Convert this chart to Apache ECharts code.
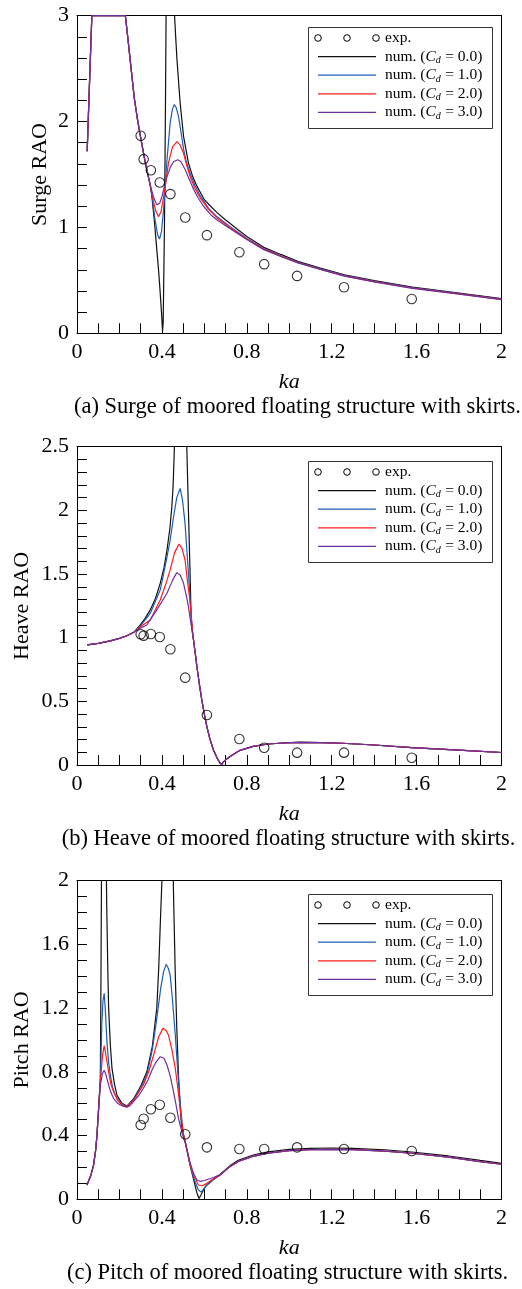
<!DOCTYPE html>
<html>
<head>
<meta charset="utf-8">
<script src="https://cdn.jsdelivr.net/npm/echarts@6/dist/echarts.min.js"></script>
<style>html,body{margin:0;padding:0;background:#fff}#c{width:522px;height:1289px}</style>
</head>
<body>
<div id="c"></div>
<script>
// ---------- experimental points ----------
const kaExp    = [0.300, 0.314, 0.348, 0.390, 0.440, 0.510, 0.612, 0.765, 0.882, 1.037, 1.258, 1.577];
const surgeExp = [1.866, 1.645, 1.540, 1.425, 1.315, 1.094, 0.927, 0.766, 0.653, 0.542, 0.435, 0.324];
const heaveExp = [1.027, 1.016, 1.029, 1.005, 0.909, 0.686, 0.393, 0.204, 0.136, 0.097, 0.097, 0.057];
const pitchExp = [0.466, 0.506, 0.565, 0.594, 0.512, 0.408, 0.326, 0.316, 0.316, 0.326, 0.316, 0.303];

// ---------- surge (a) ----------
const surgeLow = [[0.048,1.72],[0.059,2.37],[0.07,3.0],[0.1,3.0],[0.15,3.0],[0.2,3.0],[0.228,3.0],[0.24,2.78],[0.255,2.5],[0.27,2.22],[0.285,2.02],[0.298,1.87],[0.321,1.62],[0.345,1.40]];
const surgeCd0 = [[0.353,1.29],[0.365,1.05],[0.376,0.79],[0.385,0.58],[0.392,0.38],[0.398,0.2],[0.403,0.02],[0.406,0.1],[0.412,1.0],[0.417,2.2],[0.421,3.4],[0.455,3.4],[0.458,3.06],[0.465,2.8],[0.471,2.585],[0.486,2.175],[0.502,1.86],[0.525,1.61],[0.545,1.48],[0.565,1.39],[0.6,1.262],[0.627,1.205],[0.66,1.14],[0.7,1.07],[0.72,1.04],[0.76,0.975],[0.8,0.915],[0.88,0.812],[0.96,0.745],[1.04,0.68],[1.15,0.614],[1.26,0.553],[1.4,0.497],[1.58,0.436],[1.8,0.38],[2.0,0.327]];
const surgeCd1 = [[0.353,1.30],[0.368,1.07],[0.38,0.93],[0.389,0.89],[0.398,0.96],[0.408,1.17],[0.416,1.4],[0.424,1.64],[0.439,1.99],[0.45,2.12],[0.458,2.16],[0.468,2.13],[0.478,2.05],[0.49,1.9],[0.502,1.74],[0.515,1.62],[0.533,1.51],[0.555,1.4],[0.58,1.3],[0.62,1.18],[0.66,1.1],[0.72,1.01],[0.8,0.895],[0.88,0.8],[0.96,0.733],[1.04,0.673],[1.15,0.607],[1.26,0.547],[1.4,0.491],[1.58,0.431],[1.8,0.375],[2.0,0.323]];
const surgeCd2 = [[0.361,1.24],[0.372,1.15],[0.384,1.10],[0.396,1.15],[0.408,1.29],[0.42,1.45],[0.431,1.61],[0.45,1.76],[0.471,1.81],[0.485,1.78],[0.502,1.70],[0.515,1.60],[0.533,1.48],[0.555,1.37],[0.58,1.28],[0.62,1.17],[0.66,1.09],[0.72,1.0],[0.8,0.89],[0.88,0.795],[0.96,0.729],[1.04,0.669],[1.15,0.603],[1.26,0.543],[1.4,0.488],[1.58,0.428],[1.8,0.372],[2.0,0.32]];
const surgeCd3 = [[0.36,1.29],[0.376,1.213],[0.39,1.23],[0.4,1.29],[0.412,1.39],[0.424,1.48],[0.44,1.57],[0.455,1.62],[0.475,1.64],[0.49,1.62],[0.51,1.545],[0.53,1.45],[0.549,1.36],[0.57,1.28],[0.596,1.2],[0.63,1.12],[0.66,1.07],[0.72,0.99],[0.8,0.885],[0.88,0.79],[0.96,0.725],[1.04,0.665],[1.15,0.6],[1.26,0.54],[1.4,0.485],[1.58,0.425],[1.8,0.37],[2.0,0.318]];

// ---------- heave (b) ----------
const heaveLow = [[0.048,0.943],[0.1,0.955],[0.157,0.975],[0.2,0.995],[0.235,1.015],[0.27,1.045]];
const heaveCd0 = [[0.298,1.10],[0.32,1.15],[0.345,1.218],[0.37,1.31],[0.392,1.427],[0.41,1.55],[0.424,1.689],[0.437,1.85],[0.447,2.03],[0.453,2.2],[0.458,2.45],[0.462,2.7],[0.514,2.7],[0.518,2.45],[0.525,2.0],[0.532,1.55],[0.538,1.15],[0.545,1.02]];
const heaveCd1 = [[0.298,1.09],[0.345,1.19],[0.392,1.374],[0.42,1.6],[0.439,1.767],[0.455,1.95],[0.47,2.1],[0.486,2.173],[0.497,2.08],[0.509,1.90],[0.517,1.7],[0.525,1.506],[0.532,1.33],[0.538,1.165],[0.545,1.03]];
const heaveCd2 = [[0.298,1.085],[0.345,1.139],[0.392,1.296],[0.42,1.43],[0.439,1.532],[0.46,1.67],[0.481,1.736],[0.495,1.70],[0.509,1.61],[0.52,1.45],[0.53,1.32],[0.538,1.18],[0.545,1.04]];
const heaveCd3 = [[0.298,1.075],[0.329,1.10],[0.376,1.218],[0.424,1.349],[0.45,1.45],[0.47,1.511],[0.487,1.49],[0.502,1.427],[0.515,1.33],[0.525,1.244],[0.535,1.13],[0.545,1.03]];
const heaveHigh = [[0.549,0.982],[0.557,0.88],[0.565,0.772],[0.577,0.63],[0.588,0.511],[0.6,0.40],[0.612,0.30],[0.627,0.2],[0.643,0.118],[0.66,0.055],[0.672,0.02],[0.682,0.004],[0.69,0.025],[0.705,0.048],[0.721,0.066],[0.768,0.115],[0.83,0.146],[0.9,0.165],[0.97,0.173],[1.05,0.177],[1.15,0.176],[1.25,0.171],[1.4,0.157],[1.577,0.137],[1.8,0.117],[2.0,0.098]];

// ---------- pitch (c) ----------
const pitchLow = [[0.047,0.09],[0.065,0.15],[0.078,0.215],[0.088,0.31],[0.094,0.40],[0.102,0.571]];
const pitchCd0 = [[0.11,0.76],[0.113,1.41],[0.116,2.2],[0.137,2.2],[0.14,1.85],[0.145,1.45],[0.149,1.2],[0.157,0.97],[0.165,0.82],[0.177,0.72],[0.188,0.655],[0.21,0.605],[0.235,0.585],[0.266,0.63],[0.3,0.71],[0.329,0.80],[0.355,0.96],[0.376,1.2],[0.385,1.45],[0.393,1.75],[0.4,2.0],[0.403,2.2],[0.451,2.2],[0.455,1.9],[0.463,1.41],[0.47,1.08],[0.478,0.78],[0.485,0.6],[0.492,0.466],[0.51,0.36],[0.533,0.215],[0.55,0.12],[0.565,0.04],[0.575,0.005],[0.585,0.03],[0.6,0.07],[0.612,0.09],[0.645,0.127],[0.675,0.157],[0.72,0.21],[0.76,0.245],[0.83,0.278],[0.9,0.298],[1.0,0.313],[1.1,0.32],[1.2,0.322],[1.3,0.32],[1.45,0.311],[1.577,0.297],[1.75,0.272],[1.9,0.244],[2.0,0.226]];
const pitchCd1 = [[0.11,0.745],[0.117,1.1],[0.122,1.24],[0.128,1.293],[0.133,1.2],[0.141,0.99],[0.149,0.86],[0.157,0.78],[0.168,0.7],[0.18,0.655],[0.2,0.61],[0.235,0.58],[0.266,0.625],[0.3,0.70],[0.329,0.78],[0.355,0.94],[0.376,1.136],[0.395,1.33],[0.408,1.429],[0.42,1.475],[0.43,1.45],[0.439,1.408],[0.45,1.25],[0.463,1.031],[0.475,0.80],[0.486,0.613],[0.495,0.48],[0.502,0.40],[0.51,0.36],[0.533,0.215],[0.55,0.13],[0.572,0.058],[0.585,0.045],[0.6,0.07],[0.612,0.09],[0.645,0.125],[0.675,0.153],[0.72,0.205]];
const pitchCd2 = [[0.11,0.74],[0.12,0.90],[0.128,0.964],[0.137,0.9],[0.149,0.80],[0.16,0.72],[0.172,0.676],[0.19,0.625],[0.21,0.595],[0.235,0.58],[0.266,0.62],[0.313,0.718],[0.34,0.81],[0.361,0.906],[0.385,1.02],[0.405,1.073],[0.42,1.06],[0.431,1.031],[0.447,0.94],[0.463,0.822],[0.475,0.70],[0.486,0.571],[0.502,0.40],[0.51,0.36],[0.533,0.215],[0.55,0.15],[0.572,0.09],[0.59,0.085],[0.612,0.1],[0.645,0.13],[0.675,0.153],[0.72,0.205]];
const pitchCd3 = [[0.11,0.72],[0.12,0.79],[0.128,0.81],[0.137,0.78],[0.149,0.717],[0.16,0.67],[0.172,0.634],[0.19,0.605],[0.204,0.592],[0.22,0.583],[0.235,0.578],[0.25,0.588],[0.266,0.613],[0.29,0.65],[0.313,0.697],[0.335,0.75],[0.353,0.81],[0.372,0.86],[0.392,0.895],[0.41,0.885],[0.424,0.843],[0.44,0.77],[0.455,0.675],[0.467,0.59],[0.478,0.508],[0.49,0.445],[0.502,0.383],[0.51,0.355],[0.533,0.23],[0.55,0.16],[0.565,0.121],[0.58,0.113],[0.6,0.118],[0.64,0.135],[0.675,0.155],[0.72,0.205]];
const pitchTail = [[0.76,0.238],[0.83,0.27],[0.9,0.29],[1.0,0.305],[1.1,0.312],[1.2,0.314],[1.3,0.312],[1.45,0.303],[1.577,0.289],[1.75,0.265],[1.9,0.237],[2.0,0.22]];

// ---------- labels ----------
const seriesNames = ['exp.', 'num. (Cd = 0.0)', 'num. (Cd = 1.0)', 'num. (Cd = 2.0)', 'num. (Cd = 3.0)'];
const cdValues = ['0.0', '1.0', '2.0', '3.0'];
const yNames = ['Surge RAO', 'Heave RAO', 'Pitch RAO'];
const xName = 'ka';
const captions = ['(a) Surge of moored floating structure with skirts.', '(b) Heave of moored floating structure with skirts.', '(c) Pitch of moored floating structure with skirts.'];
const yMax = [3, 2.5, 2];
const yLabelStep = [1, 0.5, 0.4];
const yMinorSplit = [5, 5, 4];
const xLabelStep = 0.4, xMinorSplit = 4;

const lineColors = ['#111111', '#1c5cb8', '#ff1c1c', '#7030a0'];
const FONT = "'Liberation Serif', 'Times New Roman', serif";

const panels = [
  {exp: surgeExp, lines: [surgeLow.concat(surgeCd0), surgeLow.concat(surgeCd1), surgeLow.concat(surgeCd2), surgeLow.concat(surgeCd3)]},
  {exp: heaveExp, lines: [heaveLow.concat(heaveCd0, heaveHigh), heaveLow.concat(heaveCd1, heaveHigh), heaveLow.concat(heaveCd2, heaveHigh), heaveLow.concat(heaveCd3, heaveHigh)]},
  {exp: pitchExp, lines: [pitchLow.concat(pitchCd0), pitchLow.concat(pitchCd1, pitchTail), pitchLow.concat(pitchCd2, pitchTail), pitchLow.concat(pitchCd3, pitchTail)]}
];

// layout
const gridTop = [15.7, 446.7, 880.7];
const gridH = [317.6, 318.3, 318.6];
const yNameGap = [26, 44, 44];
const legendTop = [27, 461, 894];
const capLeft = [297.5, 288.5, 287.5];
const capTop = [395.5, 827.5, 1261.5];

function ticks() { return {show: true, inside: true, length: 10, lineStyle: {color: '#000', width: 1}}; }
function minor(n) { return {show: true, splitNumber: n, length: 10, lineStyle: {color: '#000', width: 1}}; }
function labelStyle() { return {show: true, margin: 8, fontFamily: FONT, fontSize: 22, color: '#000', formatter: v => String(Math.round(v * 10) / 10)}; }
function frameAxis(p, pos, max) {
  return {type: 'value', gridIndex: p, position: pos, min: 0, max: max,
    axisLine: {show: true, onZero: false, lineStyle: {color: '#000', width: 1}},
    axisTick: {show: false}, axisLabel: {show: false}, splitLine: {show: false}, silent: true};
}

// legend key drawn as graphic elements (text measured with canvas)
const mctx = document.createElement('canvas').getContext('2d');
const F_N = "15.5px 'Liberation Serif'", F_I = "italic 15.5px 'Liberation Serif'", F_S = "italic 10px 'Liberation Serif'";
function tw(font, s) { mctx.font = font; return mctx.measureText(s).width; }
function legendKey(T) {
  const L = 308, W = 184, H = 101, x0 = 318, x1 = 376, tx = 385;
  const rowY = k => T + 11 + 18.6 * k;
  const ch = [{type: 'rect', shape: {x: L + 0.5, y: T + 0.5, width: W, height: H}, style: {fill: '#fff', stroke: '#333', lineWidth: 1}}];
  [x0, (x0 + x1) / 2, x1].forEach(cx => ch.push({type: 'circle', shape: {cx: cx, cy: rowY(0), r: 3.3}, style: {fill: 'rgba(0,0,0,0)', stroke: '#000', lineWidth: 1}}));
  ch.push({type: 'text', x: tx, y: rowY(0), style: {text: seriesNames[0], font: F_N, fill: '#000', align: 'left', verticalAlign: 'middle'}});
  const a = 'num. (';
  for (let i = 0; i < 4; i++) {
    const y = rowY(i + 1);
    ch.push({type: 'line', shape: {x1: x0, y1: y, x2: x1, y2: y}, style: {stroke: lineColors[i], lineWidth: 1.2}});
    const b = ' = ' + cdValues[i] + ')';
    const xa = tx, xc = xa + tw(F_N, a), xd = xc + tw(F_I, 'C'), xb = xd + tw(F_S, 'd') + 0.5;
    ch.push({type: 'text', x: xa, y: y, style: {text: a, font: F_N, fill: '#000', align: 'left', verticalAlign: 'middle'}});
    ch.push({type: 'text', x: xc, y: y, style: {text: 'C', font: F_I, fill: '#000', align: 'left', verticalAlign: 'middle'}});
    ch.push({type: 'text', x: xd, y: y + 4, style: {text: 'd', font: F_S, fill: '#000', align: 'left', verticalAlign: 'middle'}});
    ch.push({type: 'text', x: xb, y: y, style: {text: b, font: F_N, fill: '#000', align: 'left', verticalAlign: 'middle'}});
  }
  return {type: 'group', x: 0, y: 0, z: 100, silent: true, children: ch};
}

const grid = [], xAxis = [], yAxis = [], series = [], title = [], graphic = [];
for (let p = 0; p < 3; p++) {
  grid.push({left: 77, top: gridTop[p], width: 424.5, height: gridH[p], show: false});
  xAxis.push({
    type: 'value', gridIndex: p, position: 'bottom', min: 0, max: 2, interval: xLabelStep,
    name: xName, nameLocation: 'middle', nameGap: 38, nameMoveOverlap: false,
    nameTextStyle: {fontFamily: FONT, fontSize: 22, fontStyle: 'italic', color: '#000'},
    axisLine: {show: true, onZero: false, lineStyle: {color: '#000', width: 1}},
    axisTick: ticks(), minorTick: minor(xMinorSplit),
    axisLabel: labelStyle(), splitLine: {show: false}, minorSplitLine: {show: false}
  });
  yAxis.push({
    type: 'value', gridIndex: p, position: 'left', min: 0, max: yMax[p], interval: yLabelStep[p],
    name: yNames[p], nameLocation: 'middle', nameGap: yNameGap[p], nameRotate: 90, nameMoveOverlap: false,
    nameTextStyle: {fontFamily: FONT, fontSize: 22, color: '#000'},
    axisLine: {show: true, onZero: false, lineStyle: {color: '#000', width: 1}},
    axisTick: ticks(), minorTick: minor(yMinorSplit[p]),
    axisLabel: labelStyle(), splitLine: {show: false}, minorSplitLine: {show: false}
  });
  for (let i = 0; i < 4; i++) {
    series.push({
      type: 'line', name: seriesNames[i + 1], xAxisIndex: p, yAxisIndex: p,
      data: panels[p].lines[i], symbol: 'none', clip: true,
      lineStyle: {color: lineColors[i], width: 1.2}, z: 2 + i
    });
  }
  series.push({
    type: 'scatter', name: seriesNames[0], xAxisIndex: p, yAxisIndex: p,
    data: kaExp.map((k, j) => [k, panels[p].exp[j]]),
    symbol: 'circle', symbolSize: 9.5,
    itemStyle: {color: 'rgba(0,0,0,0)', borderColor: '#000', borderWidth: 1.1}, z: 10
  });
  graphic.push(legendKey(legendTop[p]));
  title.push({
    text: captions[p], left: capLeft[p], top: capTop[p], textAlign: 'center', padding: 0,
    textStyle: {fontFamily: FONT, fontSize: 22.5, fontWeight: 'normal', color: '#000'}
  });
}
for (let p = 0; p < 3; p++) {
  xAxis.push(frameAxis(p, 'top', 2));
  yAxis.push(frameAxis(p, 'right', yMax[p]));
}

const chart = echarts.init(document.getElementById('c'), null, {renderer: 'canvas'});
chart.setOption({animation: false, backgroundColor: '#fff', title, grid, xAxis, yAxis, series, graphic});
</script>
</body>
</html>
